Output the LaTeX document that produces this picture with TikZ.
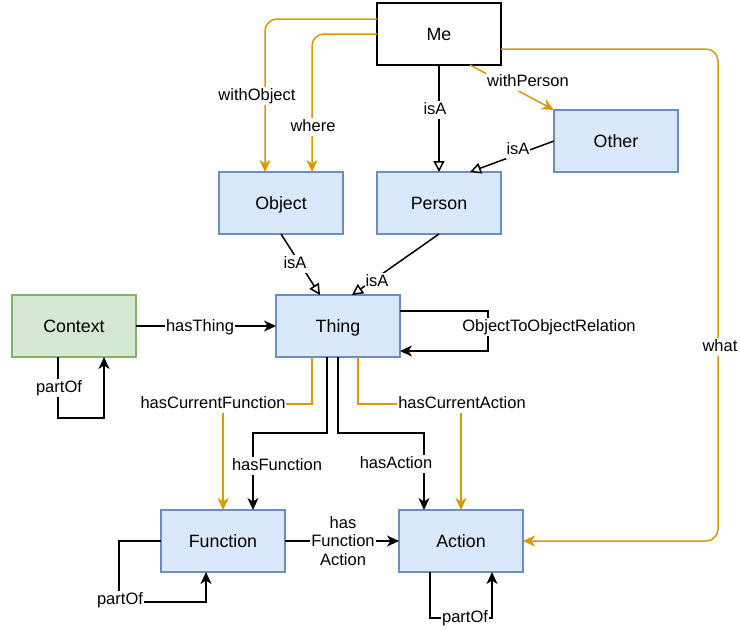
\documentclass[tikz,border=0pt]{standalone}
\usepackage{fontspec}
\setmainfont{Liberation Sans}
\usetikzlibrary{arrows.meta,calc}
\definecolor{blfill}{HTML}{DAE8FC}
\definecolor{bldraw}{HTML}{6C8EBF}
\definecolor{grfill}{HTML}{D5E8D4}
\definecolor{grdraw}{HTML}{82B366}
\definecolor{amber}{HTML}{D79B00}

\tikzset{
  box/.style={draw=bldraw, fill=blfill, line width=1.5pt, minimum width=124pt,
    minimum height=62pt, inner sep=0pt, outer sep=0pt, text height=12.7pt, text depth=0pt,
    font=\fontsize{17.8}{21}\selectfont},
  greenbox/.style={box, draw=grdraw, fill=grfill},
  plainbox/.style={box, draw=black, fill=white},
  link/.style={line width=1.5pt, draw=black, -{Stealth[length=12pt,width=11pt,inset=3.5pt]}},
  amberlink/.style={link, draw=amber, -{Stealth[length=12pt,width=11pt,inset=3.5pt,fill=amber]}},
  isalink/.style={line width=1.5pt, draw=black, -{Triangle[length=11pt,width=11pt,fill=white]}},
  lbl/.style={fill=white, inner sep=1pt, text height=11.8pt, text depth=3.4pt,
    font=\fontsize{16.5}{18.7}\selectfont},
  multilbl/.style={fill=white, inner sep=1pt, align=center,
    font=\fontsize{16.5}{18.7}\selectfont},
}

\begin{document}
\begin{tikzpicture}[x=1pt, y=-1pt]
  \useasboundingbox (0,0) rectangle (740,630);

  % classes
  \node[plainbox] (Me)       at (439, 34)  {Me};
  \node[box]      (Other)    at (616, 141) {Other};
  \node[box]      (Object)   at (281, 203) {Object};
  \node[box]      (Person)   at (439, 203) {Person};
  \node[greenbox] (Context)  at (74, 326)  {Context};
  \node[box]      (Thing)    at (338, 326) {Thing};
  \node[box]      (Function) at (223, 541) {Function};
  \node[box]      (Action)   at (461, 541) {Action};

  \coordinate (whatx) at (718, 0);

  % relations from Me
  \draw[amberlink, rounded corners=12pt] ([yshift=15pt]Me.west) -| ([xshift=-16pt]Object.north);
  \draw[amberlink, rounded corners=12pt] (Me.west) -| ([xshift=31pt]Object.north);
  \draw[isalink] (Me.south) -- (Person.north);
  \draw[amberlink] ([xshift=31pt]Me.south) -- (Other.north west);
  \draw[amberlink, rounded corners=12pt] ([yshift=-15pt]Me.east) -| (whatx |- Action.east) -- (Action.east);
  \draw[isalink] (Other.west) -- ([xshift=31pt]Person.north);

  % isA towards Thing
  \draw[isalink] (Object.south) -- ([xshift=-18pt]Thing.north);
  \draw[isalink] (Person.south) -- ([xshift=14pt]Thing.north);

  % Context
  \draw[link] (Context.east) -- (Thing.west);
  \draw[link] ([xshift=-16pt]Context.south) -- ++(0,61) -| ([xshift=30pt]Context.south);

  % Thing
  \draw[link] ([yshift=15pt]Thing.east) -- ++(88,0) |- ([yshift=-25pt]Thing.east);
  \draw[amberlink] ([xshift=-26pt]Thing.south) -- ++(0,47) -| (Function.north);
  \draw[link] ([xshift=-11pt]Thing.south) -- ++(0,76) -| ([xshift=30pt]Function.north);
  \draw[link] (Thing.south) -- ++(0,76) -| ([xshift=-37pt]Action.north);
  \draw[amberlink] ([xshift=20pt]Thing.south) -- ++(0,47) -| (Action.north);

  % Function and Action
  \draw[link] (Function.east) -- (Action.west);
  \draw[link] (Function.west) -- ++(-42,0) -- ++(0,61) -| ([xshift=-17pt]Function.south);
  \draw[link] ([xshift=-31pt]Action.south) -- ++(0,46) -| ([xshift=31pt]Action.south);

  % labels
  \node[lbl] (lWithObject) at (257, 96)  {withObject};
  \node[lbl] (lWhere)      at (313, 127) {where};
  \node[lbl] (lIsAMe)      at (435, 110) {isA};
  \node[lbl] (lWithPerson) at (528, 82)  {withPerson};
  \node[lbl] (lIsAOther)   at (518, 150) {isA};
  \node[lbl] (lWhat)       at (720, 347) {what};
  \node[lbl] (lIsAObject)  at (295, 264) {isA};
  \node[lbl] (lIsAPerson)  at (377, 282) {isA};
  \node[lbl] (lHasThing)   at (200, 327) {hasThing};
  \node[lbl] (lCtxPart)    at (59, 388)  {partOf};
  \node[lbl] (lO2O)        at (549, 327) {ObjectToObjectRelation};
  \node[lbl] (lCurFunc)    at (213, 404) {hasCurrentFunction};
  \node[lbl] (lHasFunc)    at (277, 466) {hasFunction};
  \node[lbl] (lHasAct)     at (396, 464) {hasAction};
  \node[lbl] (lCurAct)     at (462, 404) {hasCurrentAction};
  \node[multilbl] (lFuncAct) at (343, 541) {has\\Function\\Action};
  \node[lbl] (lFuncPart)   at (120, 600) {partOf};
  \node[lbl] (lActPart)    at (465, 618) {partOf};
\end{tikzpicture}
\end{document}
